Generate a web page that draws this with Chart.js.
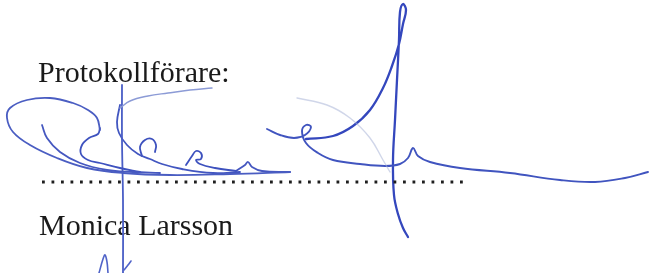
<!DOCTYPE html>
<html>
<head>
<meta charset="utf-8">
<script src="https://cdn.jsdelivr.net/npm/chart.js@4.4.1/dist/chart.umd.min.js"></script>
<style>
  html, body { margin: 0; padding: 0; background: #ffffff; }
  #wrap { position: relative; width: 650px; height: 273px; }
</style>
</head>
<body>
<div id="wrap"><canvas id="signatureChart" width="650" height="273"></canvas></div>
<script>
// Texts on the form
const labelTexts = ['Protokollförare:', 'Monica Larsson'];

// Dotted signature line (start and end x)
const dottedLine = [[42, 182], [465, 182]];

// Signature strokes as [x, y] points
const loopOuter = [[100, 130], [97, 118], [88, 110], [73, 103], [50, 98], [27, 100], [10, 108], [7, 118], [13, 132], [30, 145], [57, 158], [87, 168], [123, 173], [170, 175], [230, 174], [290, 172]];
const loopInner = [[42, 125], [47, 138], [60, 152], [80, 163], [107, 170], [133, 172], [160, 173]];
const firstE = [[100, 128], [98, 134], [89, 138], [82, 145], [81, 154], [88, 160], [100, 163], [120, 168], [140, 172]];
const stemLine = [[122, 85], [122, 140], [123, 200], [123, 273]];
const bowStroke = [[120, 105], [117, 122], [119, 133], [127, 145], [138, 154], [150, 159], [162, 164], [182, 169], [213, 173], [240, 172]];
const topArc = [[120, 108], [130, 101], [148, 96], [168, 93], [190, 90], [212, 88]];
const secondE = [[142, 156], [140, 147], [145, 140], [152, 139], [156, 145], [155, 152]];
const thirdE = [[186, 165], [192, 156], [196, 151], [201, 153], [201, 159], [196, 160], [200, 164], [215, 168], [236, 171]];
const fourthE = [[236, 171], [245, 165], [248, 162], [252, 167], [262, 171], [290, 172]];
const tailStroke = [[267, 129], [280, 135], [294, 138], [305, 135], [311, 127], [306, 125], [302, 131], [306, 143], [318, 153], [333, 160], [360, 164], [385, 166], [400, 164], [408, 158], [413, 148], [418, 156], [430, 162], [460, 168], [510, 173], [560, 180], [595, 182], [625, 178], [648, 172]];
const riseStroke = [[306, 139], [333, 136], [353, 126], [370, 110], [383, 88], [392, 66], [399, 44], [403, 24], [406, 10], [403, 4], [400, 12], [399, 40], [397, 80], [395, 120], [393, 160], [394, 195], [398, 214], [403, 228], [408, 237]];
const faintStroke = [[297, 98], [327, 105], [350, 118], [370, 138], [383, 160], [390, 172]];
const lowLambda = [[99, 273], [103, 259], [105, 255], [107, 262], [108, 273]];
const lowTick = [[124, 270], [128, 265], [131, 261]];

const strokes = [
  { pts: faintStroke, color: 'rgba(170, 180, 215, 0.55)', width: 1.4 },
  { pts: topArc, color: '#8c9bd6', width: 1.5 },
  { pts: loopOuter, color: '#4a5dc2', width: 1.8 },
  { pts: loopInner, color: '#4658c0', width: 1.8 },
  { pts: firstE, color: '#3e52bf', width: 1.8 },
  { pts: stemLine, color: '#4a5ec6', width: 1.8 },
  { pts: bowStroke, color: '#4256c0', width: 1.8 },
  { pts: secondE, color: '#3d51be', width: 1.8 },
  { pts: thirdE, color: '#3d51be', width: 1.8 },
  { pts: fourthE, color: '#4557c0', width: 1.8 },
  { pts: tailStroke, color: '#4054bf', width: 1.9 },
  { pts: riseStroke, color: '#3447bd', width: 2.3 },
  { pts: lowLambda, color: '#5063c8', width: 1.6 },
  { pts: lowTick, color: '#5063c8', width: 1.6 }
];

function toXY(arr) {
  return arr.map(p => ({ x: p[0], y: p[1] }));
}

const datasets = strokes.map(s => ({
  data: toXY(s.pts),
  borderColor: s.color,
  borderWidth: s.width,
  tension: 0.4,
  pointRadius: 0,
  fill: false,
  borderCapStyle: 'round',
  borderJoinStyle: 'round'
}));

// Dotted line goes under the ink
datasets.unshift({
  data: toXY(dottedLine),
  borderColor: '#1e1e1e',
  borderWidth: 2.8,
  borderDash: [2.8, 6.7],
  pointRadius: 0,
  tension: 0,
  fill: false
});

// Printed text, drawn under the signature
const formText = {
  id: 'formText',
  beforeDatasetsDraw(chart) {
    const { ctx, scales } = chart;
    ctx.save();
    ctx.fillStyle = '#1a1a1a';
    ctx.font = '30px "Liberation Serif", "Times New Roman", serif';
    ctx.textBaseline = 'alphabetic';
    ctx.fillText(labelTexts[0], scales.x.getPixelForValue(38), scales.y.getPixelForValue(82));
    ctx.fillText(labelTexts[1], scales.x.getPixelForValue(39), scales.y.getPixelForValue(235));
    ctx.restore();
  }
};

new Chart(document.getElementById('signatureChart'), {
  type: 'line',
  data: { datasets: datasets },
  options: {
    responsive: false,
    animation: false,
    layout: { padding: 0 },
    scales: {
      x: { type: 'linear', min: 0, max: 650, display: false },
      y: { type: 'linear', min: 0, max: 273, reverse: true, display: false }
    },
    plugins: {
      legend: { display: false },
      tooltip: { enabled: false }
    }
  },
  plugins: [formText]
});
</script>
</body>
</html>
